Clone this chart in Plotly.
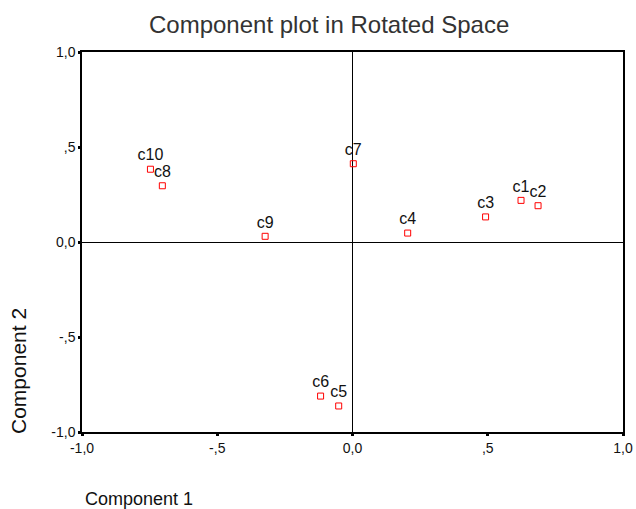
import plotly.graph_objects as go

labels = ["c1", "c2", "c3", "c4", "c5", "c6", "c7", "c8", "c9", "c10"]
comp1 = [0.623, 0.686, 0.492, 0.204, -0.051, -0.118, 0.003, -0.703, -0.323, -0.747]
comp2 = [0.219, 0.191, 0.132, 0.047, -0.863, -0.811, 0.412, 0.296, 0.030, 0.383]

tick_vals = [-1.0, -0.5, 0.0, 0.5, 1.0]
tick_text = ["-1,0", "-,5", "0,0", ",5", "1,0"]

W, H = 636, 509
L, R, T, B = 82, 13, 52, 77
pw, ph = W - L - R, H - T - B

def px(x):
    return (x - L) / pw

def py(y):
    return (H - B - y) / ph

FONT = "Liberation Sans, Arial, Helvetica, sans-serif"

fig = go.Figure()
fig.add_trace(go.Scatter(
    x=comp1, y=comp2, mode="markers+text", text=labels,
    textposition="top center",
    textfont=dict(family=FONT, size=16, color="#111"),
    marker=dict(symbol="square-open", size=6, color="red", line=dict(width=1, color="red")),
    cliponaxis=False, showlegend=False,
))

axis_common = dict(
    range=[-1, 1], tickvals=tick_vals, ticktext=tick_text,
    showgrid=False, zeroline=True, zerolinecolor="black", zerolinewidth=1,
    showline=True, linecolor="black", linewidth=1.5, mirror=True,
    ticks="outside", ticklen=2, tickwidth=3, tickcolor="black",
    tickfont=dict(family=FONT, size=14, color="#111"),
    automargin=False,
)

fig.update_layout(
    width=W, height=H, autosize=False,
    margin=dict(l=L, r=R, t=T, b=B, autoexpand=False),
    paper_bgcolor="white", plot_bgcolor="white",
    xaxis=dict(**axis_common),
    yaxis=dict(**axis_common),
    annotations=[
        dict(text="Component plot in Rotated Space", x=px(329), y=py(25), xref="paper", yref="paper",
             xanchor="center", yanchor="middle", showarrow=False,
             font=dict(family=FONT, size=24, color="#333")),
        dict(text="Component 1", x=px(83), y=py(499), xref="paper", yref="paper",
             xanchor="left", yanchor="middle", showarrow=False,
             font=dict(family=FONT, size=18, color="#111")),
        dict(text="Component 2", x=px(18), y=py(371), xref="paper", yref="paper",
             xanchor="center", yanchor="middle", showarrow=False, textangle=-90,
             font=dict(family=FONT, size=21, color="#111")),
    ],
)

fig.write_html(
    "out.html",
    config={"displayModeBar": False, "responsive": False},
    post_script="document.body.style.margin='0px';document.body.style.overflow='hidden';",
)
